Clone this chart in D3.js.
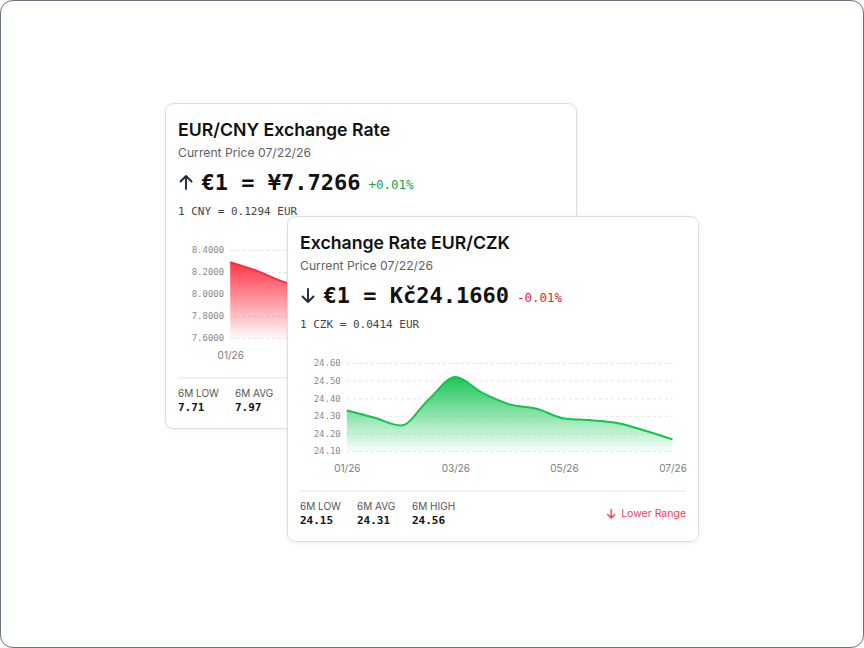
<!DOCTYPE html>
<html>
<head>
<meta charset="utf-8">
<script src="https://cdn.jsdelivr.net/npm/d3@7"></script>
<style>
  html, body { margin: 0; padding: 0; background: #fff; }
  svg { display: block; }
</style>
</head>
<body>
<svg id="chart" width="864" height="648"></svg>
<script>
// ---------- DATA ----------
const monthPositions = [0, 0.5, 1, 1.5, 2, 2.5, 3, 3.5, 4, 4.5, 5, 5.5, 6]; // months since 01/26
const xTickPositions = [0, 2, 4, 6];
const xTickLabels = ["01/26", "03/26", "05/26", "07/26"];

const cnyValues = [8.29, 8.21, 8.11, 8.05, 8.02, 7.99, 7.96, 7.93, 7.88, 7.82, 7.74, 7.71, 7.7266];
const cnyYTicks = [7.6, 7.8, 8.0, 8.2, 8.4];
const cnyStatsLabels = ["6M LOW", "6M AVG", "6M HIGH"];
const cnyStatsValues = ["7.71", "7.97", "8.29"];

const czkValues = [24.33, 24.29, 24.245, 24.39, 24.52, 24.43, 24.365, 24.34, 24.285, 24.275, 24.258, 24.215, 24.166];
const czkYTicks = [24.1, 24.2, 24.3, 24.4, 24.5, 24.6];
const czkStatsLabels = ["6M LOW", "6M AVG", "6M HIGH"];
const czkStatsValues = ["24.15", "24.31", "24.56"];

const cards = [
  {
    x: 165, y: 103, id: "cny",
    title: "EUR/CNY Exchange Rate",
    date: "Current Price 07/22/26",
    price: "€1 = ¥7.7266", change: "+0.01%", up: true,
    inverse: "1 CNY = 0.1294 EUR",
    values: cnyValues, yTicks: cnyYTicks, yFmt: d3.format(".4f"),
    statsLabels: cnyStatsLabels, statsValues: cnyStatsValues,
    range: "Upper Range",
    color: "#ff2b3b", changeColor: "#16a34a"
  },
  {
    x: 287, y: 216, id: "czk",
    title: "Exchange Rate EUR/CZK",
    date: "Current Price 07/22/26",
    price: "€1 = Kč24.1660", change: "-0.01%", up: false,
    inverse: "1 CZK = 0.0414 EUR",
    values: czkValues, yTicks: czkYTicks, yFmt: d3.format(".2f"),
    statsLabels: czkStatsLabels, statsValues: czkStatsValues,
    range: "Lower Range",
    color: "#10c44f", changeColor: "#e8192c"
  }
];

// ---------- DRAW ----------
const svg = d3.select("#chart");
const defs = svg.append("defs");

const shadow = defs.append("filter").attr("id", "shadow")
  .attr("x", "-10%").attr("y", "-10%").attr("width", "120%").attr("height", "120%");
shadow.append("feDropShadow").attr("dx", 0).attr("dy", 1).attr("stdDeviation", 2)
  .attr("flood-color", "#000").attr("flood-opacity", 0.06);

svg.append("rect")
  .attr("x", 0.5).attr("y", 0.5).attr("width", 863).attr("height", 647)
  .attr("rx", 12).attr("fill", "#fff").attr("stroke", "#6b7280").attr("stroke-width", 1);

const CARD_W = 411, CARD_H = 325;
const SANS = "Inter, 'Noto Sans', sans-serif";
const MONO = "'DejaVu Sans Mono', monospace";

cards.forEach(c => {
  const g = svg.append("g").attr("transform", `translate(${c.x},${c.y})`);
  g.append("rect")
    .attr("x", 0.5).attr("y", 0.5).attr("width", CARD_W).attr("height", CARD_H)
    .attr("rx", 8).attr("fill", "#fff").attr("stroke", "#dcdcdc")
    .attr("filter", "url(#shadow)");

  const pad = 13;
  g.append("text").attr("x", pad).attr("y", 32.7)
    .attr("font-family", SANS).attr("font-size", 17.7).attr("font-weight", 600)
    .attr("fill", "#111").text(c.title);

  g.append("text").attr("x", pad).attr("y", 54.3)
    .attr("font-family", SANS).attr("font-size", 12.2)
    .attr("fill", "#5f5f5f").text(c.date);

  // arrow icon
  const ax = pad + 8, aTop = 73, aBot = 86;
  const arrow = g.append("g").attr("stroke", "#1e2a3a").attr("stroke-width", 1.9)
    .attr("fill", "none").attr("stroke-linecap", "round").attr("stroke-linejoin", "round");
  if (c.up) {
    arrow.append("path").attr("d", `M${ax},${aBot} L${ax},${aTop} M${ax - 5.5},${aTop + 5.5} L${ax},${aTop} L${ax + 5.5},${aTop + 5.5}`);
  } else {
    arrow.append("path").attr("d", `M${ax},${aTop} L${ax},${aBot} M${ax - 5.5},${aBot - 5.5} L${ax},${aBot} L${ax + 5.5},${aBot - 5.5}`);
  }

  const priceText = g.append("text").attr("x", 36.5).attr("y", 87.3)
    .attr("font-family", MONO).attr("font-size", 22).attr("font-weight", 700)
    .attr("fill", "#111").text(c.price);
  const pw = priceText.node().getComputedTextLength();
  g.append("text").attr("x", 36.5 + pw + 8).attr("y", 85.5)
    .attr("font-family", MONO).attr("font-size", 12.5)
    .attr("fill", c.changeColor).text(c.change);

  g.append("text").attr("x", pad).attr("y", 111.7)
    .attr("font-family", MONO).attr("font-size", 11)
    .attr("fill", "#444").text(c.inverse);

  // chart
  const yTicks = c.yTicks;
  const tmp = g.append("text").attr("font-family", MONO).attr("font-size", 9)
    .text(c.yFmt(yTicks[yTicks.length - 1]));
  const lw = tmp.node().getComputedTextLength();
  tmp.remove();
  const labelLeft = 26.7;
  const plotLeft = labelLeft + lw + 6;
  const plotRight = 385.5;
  const plotTop = 147, plotBottom = 235;

  const x = d3.scaleLinear().domain([0, 6]).range([plotLeft, plotRight]);
  const y = d3.scaleLinear().domain([yTicks[0], yTicks[yTicks.length - 1]]).range([plotBottom, plotTop]);

  const yAxis = d3.axisLeft(y).tickValues(yTicks).tickFormat(c.yFmt)
    .tickSize(-(plotRight - plotLeft)).tickPadding(6);
  const ya = g.append("g").attr("transform", `translate(${plotLeft},0)`).call(yAxis);
  ya.select(".domain").remove();
  ya.selectAll(".tick line").attr("stroke", "#e4e4e4").attr("stroke-dasharray", "3 3");
  ya.selectAll(".tick text").attr("font-family", MONO).attr("font-size", 9).attr("fill", "#8a8a8a");

  const xAxis = d3.axisBottom(x).tickValues(xTickPositions)
    .tickFormat((d, i) => xTickLabels[i]).tickSize(0).tickPadding(0);
  const xa = g.append("g").attr("transform", `translate(0,${plotBottom + 14})`).call(xAxis);
  xa.select(".domain").remove();
  xa.selectAll(".tick text").attr("font-family", SANS).attr("font-size", 10)
    .attr("fill", "#7a7a7a").attr("dy", "0.71em");

  const pts = monthPositions.map((m, i) => [m, c.values[i]]);
  const gradId = "grad-" + c.id;
  const grad = defs.append("linearGradient").attr("id", gradId)
    .attr("x1", 0).attr("y1", 0).attr("x2", 0).attr("y2", 1);
  grad.append("stop").attr("offset", "0%").attr("stop-color", c.color).attr("stop-opacity", 0.95);
  grad.append("stop").attr("offset", "100%").attr("stop-color", c.color).attr("stop-opacity", 0.03);

  const area = d3.area().curve(d3.curveMonotoneX)
    .x(d => x(d[0])).y0(plotBottom).y1(d => y(d[1]));
  const line = d3.line().curve(d3.curveMonotoneX)
    .x(d => x(d[0])).y(d => y(d[1]));

  g.append("path").datum(pts).attr("d", area).attr("fill", `url(#${gradId})`);
  g.append("path").datum(pts).attr("d", line).attr("fill", "none")
    .attr("stroke", c.color).attr("stroke-width", 2);

  // separator
  g.append("line").attr("x1", pad).attr("x2", CARD_W - 12).attr("y1", 275).attr("y2", 275)
    .attr("stroke", "#e3e3e3").attr("stroke-width", 1);

  const statX = [pad, 70, 125];
  c.statsLabels.forEach((lab, i) => {
    g.append("text").attr("x", statX[i]).attr("y", 294)
      .attr("font-family", SANS).attr("font-size", 10).attr("fill", "#555").text(lab);
    g.append("text").attr("x", statX[i]).attr("y", 308)
      .attr("font-family", MONO).attr("font-size", 11).attr("font-weight", 700)
      .attr("fill", "#111").text(c.statsValues[i]);
  });

  const rangeColor = c.up ? "#16a34a" : "#f2405a";
  const rt = g.append("text").attr("x", CARD_W - 12).attr("y", 301).attr("text-anchor", "end")
    .attr("font-family", SANS).attr("font-size", 10.5).attr("fill", rangeColor).text(c.range);
  const rw = rt.node().getComputedTextLength();
  const rx = CARD_W - 12 - rw - 10;
  const ra = g.append("path").attr("fill", "none").attr("stroke", rangeColor)
    .attr("stroke-width", 1.4).attr("stroke-linecap", "round").attr("stroke-linejoin", "round");
  if (c.up) {
    ra.attr("d", `M${rx},302 L${rx},293.5 M${rx - 3.5},297 L${rx},293.5 L${rx + 3.5},297`);
  } else {
    ra.attr("d", `M${rx},293.5 L${rx},302 M${rx - 3.5},298.5 L${rx},302 L${rx + 3.5},298.5`);
  }
});
</script>
</body>
</html>
